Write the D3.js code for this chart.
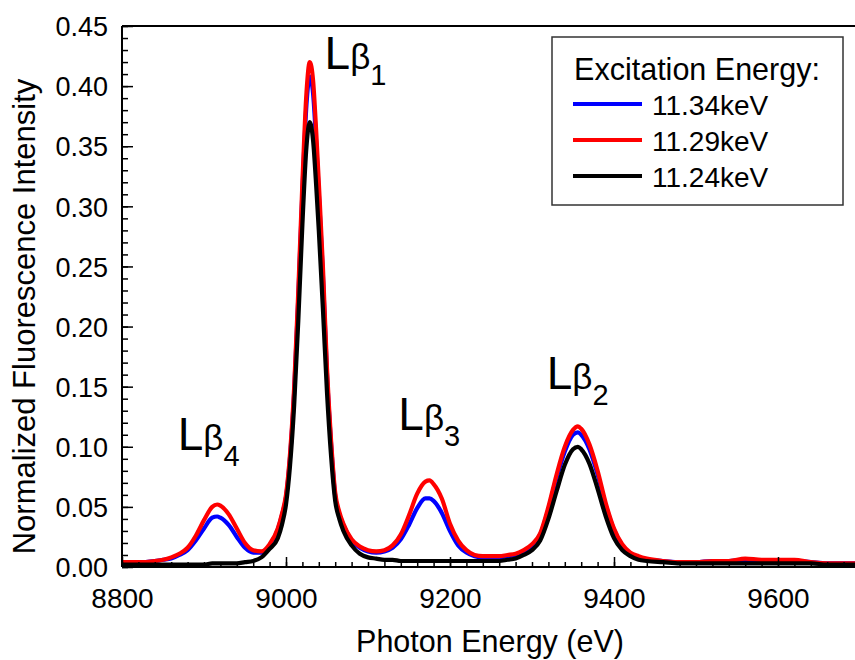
<!DOCTYPE html>
<html>
<head>
<meta charset="utf-8">
<script src="https://cdn.jsdelivr.net/npm/d3@7"></script>
<style>
  html, body { margin: 0; padding: 0; background: #fff; }
  svg { display: block; font-family: "Liberation Sans", Arial, sans-serif; }
</style>
</head>
<body>
<svg id="chart" width="855" height="660"></svg>
<script>
// ---- data ----
const energy = [
  8800, 8820, 8840, 8850, 8860, 8870, 8880, 8890, 8900, 8910,
  8916, 8920, 8930, 8940, 8950, 8960, 8970, 8980, 8990, 8995,
  9000, 9005, 9010, 9015, 9020, 9025, 9029, 9033, 9037, 9040,
  9045, 9050, 9055, 9060, 9065, 9070, 9080, 9090, 9100, 9110,
  9120, 9130, 9140, 9150, 9160, 9170, 9175, 9180, 9190, 9200,
  9210, 9220, 9230, 9240, 9250, 9260, 9270, 9280, 9290, 9300,
  9310, 9320, 9330, 9340, 9350, 9356, 9360, 9370, 9380, 9390,
  9400, 9410, 9420, 9430, 9440, 9460, 9480, 9500, 9520, 9540,
  9560, 9580, 9600, 9620, 9640, 9660, 9680, 9700
];
const series1134 = [
  0.004, 0.004, 0.005, 0.006, 0.007, 0.010, 0.014, 0.022, 0.032, 0.041,
  0.042, 0.041, 0.035, 0.025, 0.016, 0.012, 0.012, 0.018, 0.031, 0.043,
  0.058, 0.092, 0.146, 0.224, 0.312, 0.385, 0.408, 0.394, 0.350, 0.311,
  0.243, 0.160, 0.102, 0.059, 0.044, 0.035, 0.022, 0.016, 0.013, 0.012,
  0.013, 0.016, 0.023, 0.035, 0.049, 0.057, 0.057, 0.055, 0.045, 0.030,
  0.018, 0.012, 0.009, 0.008, 0.008, 0.008, 0.009, 0.010, 0.013, 0.018,
  0.027, 0.048, 0.074, 0.096, 0.110, 0.112, 0.110, 0.098, 0.077, 0.051,
  0.031, 0.018, 0.011, 0.008, 0.006, 0.005, 0.004, 0.004, 0.005, 0.005,
  0.006, 0.005, 0.005, 0.005, 0.004, 0.003, 0.003, 0.003
];
const series1129 = [
  0.004, 0.004, 0.005, 0.006, 0.008, 0.011, 0.016, 0.026, 0.039, 0.050,
  0.052, 0.051, 0.044, 0.032, 0.020, 0.014, 0.013, 0.019, 0.032, 0.044,
  0.060, 0.095, 0.150, 0.230, 0.320, 0.395, 0.420, 0.405, 0.360, 0.320,
  0.250, 0.165, 0.105, 0.062, 0.046, 0.036, 0.023, 0.017, 0.014, 0.013,
  0.014, 0.018, 0.027, 0.043, 0.061, 0.071, 0.072, 0.069, 0.057, 0.036,
  0.022, 0.014, 0.010, 0.009, 0.009, 0.009, 0.010, 0.011, 0.014, 0.019,
  0.028, 0.050, 0.077, 0.100, 0.114, 0.117, 0.115, 0.102, 0.080, 0.053,
  0.032, 0.019, 0.012, 0.009, 0.007, 0.005, 0.004, 0.004, 0.005, 0.005,
  0.007, 0.006, 0.006, 0.006, 0.004, 0.003, 0.003, 0.003
];
const series1124 = [
  0.002, 0.002, 0.002, 0.002, 0.002, 0.002, 0.002, 0.002, 0.002, 0.003,
  0.003, 0.003, 0.003, 0.003, 0.004, 0.005, 0.008, 0.015, 0.024, 0.035,
  0.052, 0.085, 0.135, 0.205, 0.285, 0.350, 0.370, 0.355, 0.315, 0.280,
  0.215, 0.145, 0.092, 0.055, 0.040, 0.030, 0.018, 0.011, 0.008, 0.007,
  0.006, 0.006, 0.005, 0.005, 0.005, 0.005, 0.005, 0.005, 0.005, 0.005,
  0.005, 0.005, 0.005, 0.005, 0.005, 0.005, 0.006, 0.007, 0.010, 0.014,
  0.022, 0.040, 0.063, 0.085, 0.098, 0.100, 0.098, 0.086, 0.065, 0.042,
  0.024, 0.014, 0.009, 0.006, 0.005, 0.004, 0.003, 0.003, 0.003, 0.003,
  0.003, 0.003, 0.003, 0.003, 0.003, 0.002, 0.002, 0.002
];
const seriesNames = ["11.34keV", "11.29keV", "11.24keV"];
const seriesColors = ["#0000ff", "#ff0000", "#000000"];
const xTicks = [8800, 9000, 9200, 9400, 9600];
const yTicks = [0.00, 0.05, 0.10, 0.15, 0.20, 0.25, 0.30, 0.35, 0.40, 0.45];
const peakLabels = ["4", "1", "3", "2"];
const peakLabelX = [8868, 9047, 9137, 9318];
const peakLabelY = [0.097, 0.414, 0.114, 0.148];

// ---- layout ----
const svg = d3.select("#chart");
const pLeft = 122, pRight = 860, pTop = 26, pBottom = 567;
const x = d3.scaleLinear().domain([8800, 9700]).range([pLeft, pRight]);
const y = d3.scaleLinear().domain([0, 0.45]).range([pBottom, pTop]);

svg.append("defs").append("clipPath").attr("id", "clip")
  .append("rect").attr("x", pLeft).attr("y", pTop)
  .attr("width", pRight - pLeft).attr("height", pBottom - pTop);

// curves
const allSeries = [series1134, series1129, series1124];
const line = d3.line()
  .x((d, i) => x(energy[i]))
  .y(d => y(d))
  .curve(d3.curveMonotoneX);
const gLines = svg.append("g").attr("clip-path", "url(#clip)");
allSeries.forEach((s, k) => {
  gLines.append("path")
    .attr("d", line(s))
    .attr("fill", "none")
    .attr("stroke", seriesColors[k])
    .attr("stroke-width", 4.2)
    .attr("stroke-linejoin", "round");
});

// axes: ticks inward
const xMinor = d3.range(8800, 9701, 20);
const xAxisMinor = d3.axisBottom(x).tickValues(xMinor).tickSize(-5).tickFormat("");
const gxm = svg.append("g").attr("transform", `translate(0,${pBottom})`).call(xAxisMinor);
gxm.select(".domain").remove();
gxm.selectAll("line").attr("stroke", "#000").attr("stroke-width", 1.5);

const xAxis = d3.axisBottom(x).tickValues(xTicks).tickSize(-10).tickFormat(d3.format("d"));
const gx = svg.append("g").attr("transform", `translate(0,${pBottom})`).call(xAxis);
gx.select(".domain").remove();
gx.selectAll("line").attr("stroke", "#000").attr("stroke-width", 1.5);
gx.selectAll("text").attr("font-size", 28).attr("fill", "#000")
  .attr("font-family", "Liberation Sans, Arial, sans-serif").attr("dy", "0").attr("y", 41);

const yMinor = d3.range(0, 0.4501, 0.01);
const yAxisMinor = d3.axisLeft(y).tickValues(yMinor).tickSize(-6).tickFormat("");
const gym = svg.append("g").attr("transform", `translate(${pLeft},0)`).call(yAxisMinor);
gym.select(".domain").remove();
gym.selectAll("line").attr("stroke", "#000").attr("stroke-width", 1.5);

const yAxis = d3.axisLeft(y).tickValues(yTicks).tickSize(-11).tickFormat(d3.format(".2f"));
const gy = svg.append("g").attr("transform", `translate(${pLeft},0)`).call(yAxis);
gy.select(".domain").remove();
gy.selectAll("line").attr("stroke", "#000").attr("stroke-width", 1.5);
gy.selectAll("text").attr("font-size", 27).attr("fill", "#000")
  .attr("font-family", "Liberation Sans, Arial, sans-serif").attr("x", -14).attr("dy", "0.36em");

// frame lines
svg.append("line").attr("x1", pLeft).attr("x2", pLeft).attr("y1", pTop).attr("y2", pBottom)
  .attr("stroke", "#000").attr("stroke-width", 2);
svg.append("line").attr("x1", pLeft).attr("x2", 855).attr("y1", pBottom).attr("y2", pBottom)
  .attr("stroke", "#000").attr("stroke-width", 2);
svg.append("line").attr("x1", pLeft).attr("x2", 855).attr("y1", pTop).attr("y2", pTop)
  .attr("stroke", "#000").attr("stroke-width", 2);

// axis titles
svg.append("text")
  .attr("x", (pLeft + pRight) / 2 - 1).attr("y", 652)
  .attr("text-anchor", "middle").attr("font-size", 30.5).attr("fill", "#000")
  .text("Photon Energy (eV)");
svg.append("text")
  .attr("transform", `translate(35,${(553 + 80) / 2}) rotate(-90)`)
  .attr("text-anchor", "middle").attr("font-size", 31).attr("fill", "#000")
  .text("Normalized Fluorescence Intensity");

// peak labels
peakLabels.forEach((sub, i) => {
  const t = svg.append("text")
    .attr("x", x(peakLabelX[i])).attr("y", y(peakLabelY[i]))
    .attr("fill", "#000");
  t.append("tspan").attr("font-size", 46).text("L");
  t.append("tspan").attr("font-size", 35).text("β");
  t.append("tspan").attr("font-size", 29).attr("dy", 16).text(sub);
});

// legend
const lg = svg.append("g");
lg.append("rect").attr("x", 552).attr("y", 37).attr("width", 291).attr("height", 168)
  .attr("fill", "#fff").attr("stroke", "#333").attr("stroke-width", 1.5);
lg.append("text").attr("x", 697).attr("y", 80).attr("text-anchor", "middle")
  .attr("font-size", 30.5).attr("fill", "#000").text("Excitation Energy:");
const legY = [104, 140, 176];
seriesNames.forEach((name, k) => {
  lg.append("line").attr("x1", 573).attr("x2", 642).attr("y1", legY[k]).attr("y2", legY[k])
    .attr("stroke", seriesColors[k]).attr("stroke-width", 4);
  lg.append("text").attr("x", 652).attr("y", legY[k] + 11)
    .attr("font-size", 28).attr("fill", "#000").text(name);
});
</script>
</body>
</html>
